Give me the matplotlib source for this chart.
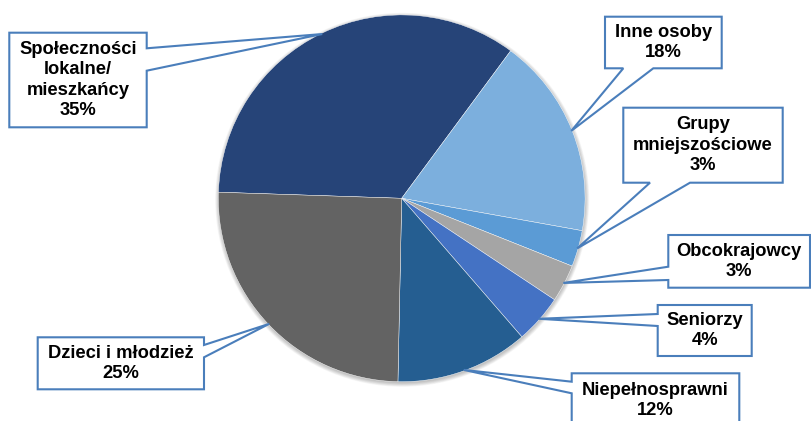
import matplotlib
matplotlib.use("Agg")
import matplotlib.pyplot as plt
from matplotlib.patches import Polygon, Circle
import numpy as np

# ---- data ----
categories = ["Społeczności\nlokalne/\nmieszkańcy", "Inne osoby", "Grupy\nmniejszościowe",
              "Obcokrajowcy", "Seniorzy", "Niepełnosprawni", "Dzieci i młodzież"]
values = [34.6, 17.7, 3.2, 3.3, 4.3, 11.7, 25.2]
colors = ["#264478", "#7CAFDD", "#5B9BD5", "#A5A5A5", "#4472C4", "#255E91", "#636363"]

# ---- layout (pixel coordinates, origin top-left) ----
W, H = 811, 421
CX, CY, R = 401.7, 198.3, 183.4
# box: (x0, y0, x1, y1), side of the callout pointer, pointer base (a, b), text centre y
boxes = [
    ((9.3, 32.7, 146.7, 127.3), "right", (48.3, 70.7), None),
    ((605.0, 16.7, 721.7, 68.3), "bottom", (623.3, 653.3), None),
    ((623.3, 107.7, 782.7, 182.7), "bottom", (650.0, 690.0), None),
    ((668.3, 235.0, 810.0, 287.7), "left", (266.7, 280.0), None),
    ((657.7, 305.0, 751.7, 356.0), "left", (314.0, 326.0), None),
    ((571.7, 373.3, 739.3, 430.0), "left", (381.7, 393.3), 400.5),
    ((37.7, 337.3, 204.0, 389.3), "right", (345.0, 357.3), None),
]
EDGE = "#4A7EBB"

fig = plt.figure(figsize=(W / 100, H / 100), dpi=100)
ax = fig.add_axes([0, 0, 1, 1])

def Y(py):
    return H - py

# soft shadow
for k in range(7):
    ax.add_patch(Circle((CX + 0.5, Y(CY) - 1.5), R + 0.6 * k, facecolor="black",
                        edgecolor="none", alpha=0.035, zorder=0.5))

wedges, _ = ax.pie(values, colors=colors, startangle=178.1, counterclock=False,
                   center=(CX, Y(CY)), radius=R, frame=True,
                   wedgeprops=dict(edgecolor="white", linewidth=0.3))
for w in wedges:
    w.set_zorder(1)

for w, cat, val, (box, side, (a, b), tyc) in zip(wedges, categories, values, boxes):
    mid = np.deg2rad((w.theta1 + w.theta2) / 2)
    tx = CX + R * 0.995 * np.cos(mid)
    ty = Y(CY) + R * 0.995 * np.sin(mid)
    x0, y0, x1, y1 = box
    X0, X1, Y0, Y1 = x0, x1, Y(y0), Y(y1)
    if side == "right":
        pts = [(X0, Y0), (X1, Y0), (X1, Y(a)), (tx, ty), (X1, Y(b)), (X1, Y1), (X0, Y1)]
    elif side == "left":
        pts = [(X0, Y0), (X1, Y0), (X1, Y1), (X0, Y1), (X0, Y(b)), (tx, ty), (X0, Y(a))]
    else:  # bottom
        pts = [(X0, Y0), (X1, Y0), (X1, Y1), (b, Y1), (tx, ty), (a, Y1), (X0, Y1)]
    ax.add_patch(Polygon(pts, closed=True, facecolor="white", edgecolor=EDGE,
                         linewidth=1.5, joinstyle="miter", zorder=3))
    yc = tyc if tyc is not None else (y0 + y1) / 2
    ax.text((x0 + x1) / 2, Y(yc), f"{cat}\n{val:.0f}%", ha="center", va="center",
            fontsize=13.2, fontweight="bold", family=["Liberation Sans", "DejaVu Sans"],
            color="black", linespacing=1.26, zorder=4)

ax.set_xlim(0, W)
ax.set_ylim(0, H)
ax.set_aspect("auto")
ax.axis("off")
fig.savefig("out.png", dpi=100, facecolor="white")
